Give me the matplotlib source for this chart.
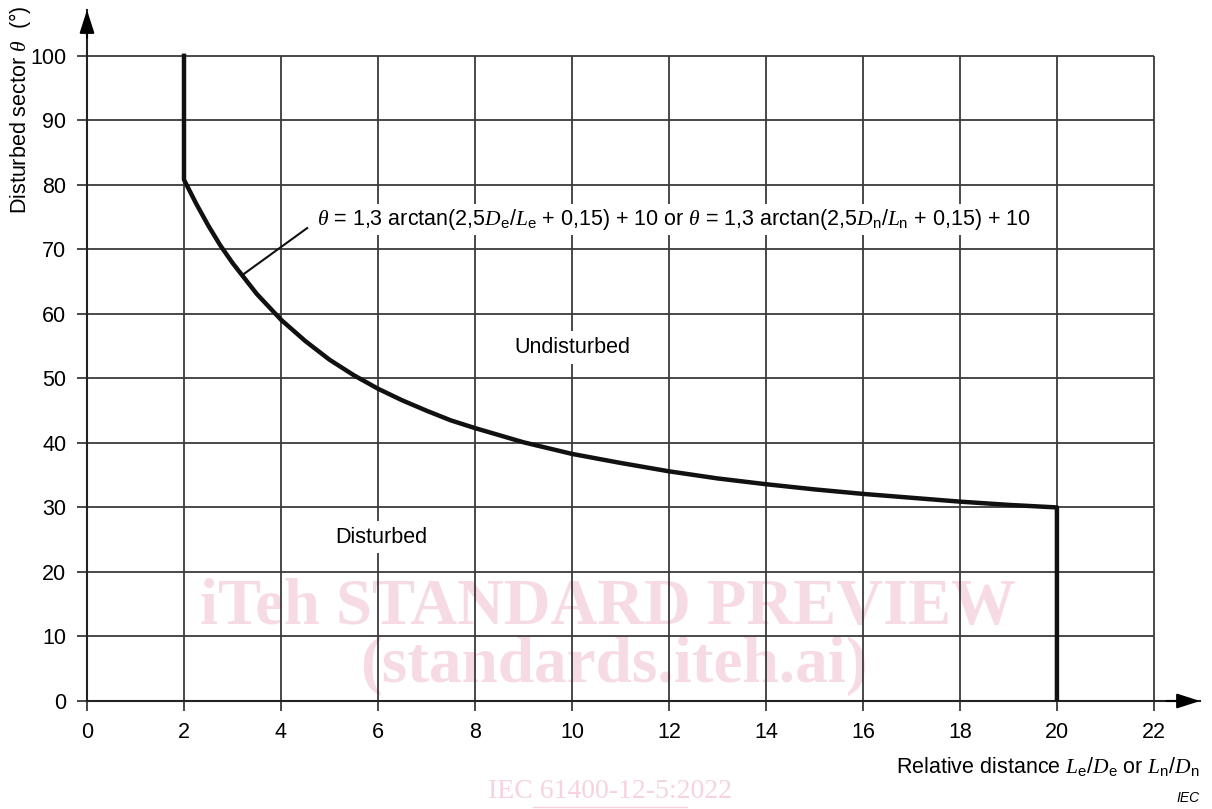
import matplotlib
matplotlib.use("Agg")
import matplotlib.pyplot as plt

plt.rcParams["font.family"] = ["Liberation Sans", "DejaVu Sans"]
plt.rcParams["mathtext.fontset"] = "custom"
plt.rcParams["mathtext.rm"] = "Liberation Sans"
plt.rcParams["mathtext.it"] = "Liberation Serif:italic"

# boundary curve (relative distance vs disturbed sector)
rel_dist = [2, 2, 2.25, 2.5, 2.75, 3, 3.5, 4, 4.5, 5, 5.5, 6, 6.5, 7, 7.5, 8,
            9, 10, 11, 12, 13, 14, 15, 16, 17, 18, 19, 20, 20]
sector = [100, 80.8, 77.1, 73.7, 70.6, 67.9, 63.1, 59.1, 55.8, 52.9, 50.5,
          48.4, 46.6, 45.0, 43.5, 42.3, 40.1, 38.3, 36.9, 35.6, 34.5, 33.6,
          32.8, 32.1, 31.5, 30.9, 30.4, 30.0, 0]
x_ticks = list(range(0, 23, 2))
y_ticks = list(range(0, 101, 10))

GRID = "#3a3a3a"
PINK = "#f6d3de"
FS = 15.5

fig = plt.figure(figsize=(12.12, 8.09), dpi=100)
ax = fig.add_axes([87 / 1212, 108 / 809, (1200 - 87) / 1212, (701 - 10) / 809])
ax.patch.set_alpha(0)
ax.set_xlim(0, 22.95)
ax.set_ylim(0, 107.1)

# grid, drawn only over the 0..22 / 0..100 box
ax.vlines(x_ticks[1:], 0, 100, color=GRID, lw=1.3, zorder=1)
ax.hlines(y_ticks[1:], 0, 22, color=GRID, lw=1.3, zorder=1)

ax.plot(rel_dist, sector, color="#111111", lw=3.2, solid_joinstyle="round", zorder=3)

ax.spines[["top", "right"]].set_visible(False)
for s in ("left", "bottom"):
    ax.spines[s].set_linewidth(1.5)
    ax.spines[s].set_color("#222222")
ax.set_xticks(x_ticks)
ax.set_yticks(y_ticks)
ax.tick_params(direction="out", length=7, width=1.3, color=GRID,
               labelsize=FS, pad=8)

# axis arrow heads
ax.annotate("", xy=(1.0, 0), xytext=(0.97, 0), xycoords="axes fraction",
            arrowprops=dict(arrowstyle="-|>,head_length=1.4,head_width=0.45",
                            color="black", lw=1.5, shrinkA=0, shrinkB=0))
ax.annotate("", xy=(0, 1.0), xytext=(0, 0.96), xycoords="axes fraction",
            arrowprops=dict(arrowstyle="-|>,head_length=1.4,head_width=0.45",
                            color="black", lw=1.5, shrinkA=0, shrinkB=0))

# formula label with leader line
ax.plot([3.2, 4.54], [66.0, 73.3], color="#111111", lw=1.5, zorder=3)
ax.text(4.75, 74.6,
        r"$\theta$ = 1,3 arctan(2,5$D_{\rm e}$/$L_{\rm e}$ + 0,15) + 10 or "
        r"$\theta$ = 1,3 arctan(2,5$D_{\rm n}$/$L_{\rm n}$ + 0,15) + 10",
        fontsize=FS, va="center", ha="left", zorder=4,
        bbox=dict(facecolor="white", edgecolor="none", pad=2))
ax.text(10.0, 54.8, "Undisturbed", fontsize=FS, ha="center", va="center",
        zorder=4, bbox=dict(facecolor="white", edgecolor="none", pad=4))
ax.text(6.06, 25.4, "Disturbed", fontsize=FS, ha="center", va="center",
        zorder=4, bbox=dict(facecolor="white", edgecolor="none", pad=4))

fig.text(20 / 1212, 1 - 110 / 809, r"Disturbed sector $\theta$  (°)",
         rotation=90, fontsize=FS, ha="center", va="center")
fig.text(1200 / 1212, 1 - 766 / 809,
         r"Relative distance $L_{\rm e}$/$D_{\rm e}$ or $L_{\rm n}$/$D_{\rm n}$",
         fontsize=FS, ha="right", va="center")
fig.text(1200 / 1212, 1 - 798 / 809, "IEC", fontsize=10, style="italic",
         ha="right", va="center")

# watermark, behind the grid
fig.text(608 / 1212, 1 - 608 / 809, "iTeh STANDARD PREVIEW", fontsize=46.5,
         family="Liberation Serif", weight="bold", color=PINK, alpha=0.8,
         ha="center", va="center", zorder=-1)
fig.text(614 / 1212, 1 - 666 / 809, "(standards.iteh.ai)", fontsize=47,
         family="Liberation Serif", weight="bold", color=PINK, alpha=0.8,
         ha="center", va="center", zorder=-1)
fig.text(610 / 1212, 1 - 792 / 809, "IEC 61400-12-5:2022", fontsize=20,
         family="Liberation Serif", color=PINK, ha="center", va="center", zorder=-1)
fig.add_artist(plt.Line2D([533 / 1212, 687 / 1212], [1 - 807 / 809, 1 - 807 / 809],
                          color=PINK, lw=1, zorder=-1))

fig.savefig("out.png", dpi=100)
